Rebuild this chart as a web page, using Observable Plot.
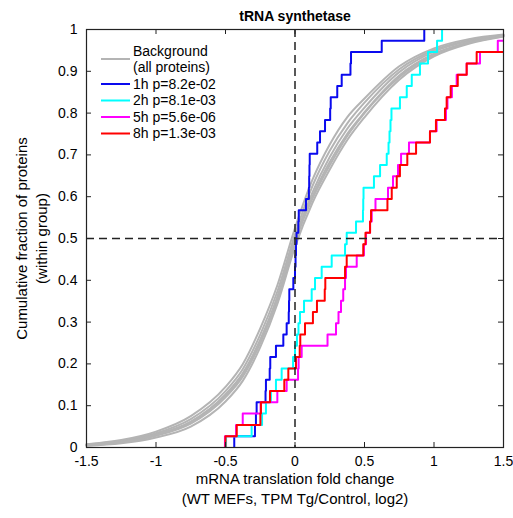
<!DOCTYPE html>
<html><head><meta charset="utf-8">
<script src="https://cdn.jsdelivr.net/npm/d3@7"></script>
<script src="https://cdn.jsdelivr.net/npm/@observablehq/plot@0.6"></script>
<style>body{margin:0;background:#fff}#chart{width:513px;height:518px}</style>
</head><body><div id="chart"></div>
<script>
// ---- data ----
const title = "tRNA synthetase";
const xTitle = ["mRNA translation fold change", "(WT MEFs, TPM Tg/Control, log2)"];
const yTitle = ["Cumulative fraction of proteins", "(within group)"];
const groupNames = ["1h p=8.2e-02", "2h p=8.1e-03", "5h p=5.6e-06", "8h p=1.3e-03"];
const groupColors = ["#0a0aee", "#00ffff", "#ff00ff", "#ff0000"];
const bgName = ["Background", "(all proteins)"];

// fold-change values per group (37 proteins each)
const h1 = [-0.437,-0.288,-0.281,-0.276,-0.212,-0.209,-0.182,-0.178,-0.137,-0.084,-0.060,-0.045,-0.043,-0.041,-0.012,0.000,0.004,0.007,0.011,0.024,0.027,0.079,0.100,0.102,0.104,0.106,0.160,0.180,0.216,0.253,0.257,0.304,0.336,0.399,0.403,0.624,0.930];
const h2 = [-0.496,-0.312,-0.237,-0.209,-0.173,-0.137,-0.096,-0.014,0.000,0.014,0.025,0.036,0.065,0.120,0.144,0.192,0.264,0.360,0.372,0.439,0.489,0.491,0.493,0.568,0.612,0.660,0.673,0.680,0.687,0.694,0.755,0.804,0.840,0.899,0.957,1.022,1.058];
const h5 = [-0.504,-0.424,-0.376,-0.247,-0.127,-0.060,0.022,0.026,0.048,0.234,0.295,0.313,0.331,0.347,0.360,0.367,0.444,0.496,0.511,0.540,0.552,0.579,0.669,0.705,0.741,0.763,0.820,0.971,1.019,1.086,1.097,1.129,1.163,1.235,1.331,1.459,1.700];
const h8 = [-0.500,-0.419,-0.249,-0.245,-0.180,-0.077,-0.048,0.007,0.034,0.038,0.072,0.129,0.158,0.214,0.218,0.360,0.372,0.491,0.507,0.540,0.547,0.665,0.696,0.732,0.755,0.808,0.871,0.971,1.014,1.079,1.091,1.120,1.171,1.235,1.307,1.700,1.900];

// background cumulative curves (read at these x positions)
const bgX = [-1.5,-1.25,-1,-0.75,-0.5,-0.375,-0.25,-0.125,0,0.125,0.25,0.375,0.5,0.75,1,1.25,1.5];
const bg1 = [0.008,0.018,0.038,0.075,0.145,0.200,0.285,0.390,0.525,0.640,0.725,0.790,0.835,0.912,0.955,0.977,0.988];
const bg2 = [0.007,0.016,0.034,0.068,0.135,0.188,0.270,0.375,0.510,0.625,0.710,0.775,0.825,0.905,0.951,0.974,0.987];
const bg3 = [0.006,0.014,0.031,0.062,0.127,0.178,0.258,0.362,0.500,0.610,0.695,0.762,0.813,0.898,0.947,0.972,0.986];
const bg4 = [0.005,0.012,0.028,0.057,0.120,0.170,0.250,0.355,0.490,0.600,0.683,0.750,0.802,0.890,0.942,0.969,0.985];
const bg5 = [0.004,0.010,0.024,0.050,0.110,0.160,0.240,0.345,0.480,0.585,0.665,0.735,0.790,0.880,0.936,0.966,0.983];
const bg6 = [0.006,0.013,0.030,0.060,0.125,0.175,0.255,0.360,0.497,0.595,0.675,0.745,0.800,0.886,0.940,0.968,0.984];

const xTicks = [-1.5,-1,-0.5,0,0.5,1,1.5];
const yTicks = [0,0.1,0.2,0.3,0.4,0.5,0.6,0.7,0.8,0.9,1];
const refX = [0];
const refY = [0.5];

// ---- derived tables ----
function ecdf(values, group) {
  const s = values.slice().sort((a, b) => a - b);
  const n = s.length;
  const pts = [{x: s[0], y: 0, group}];
  s.forEach((v, i) => pts.push({x: v, y: (i + 1) / n, group}));
  return pts;
}
const steps = [h1, h2, h5, h8].flatMap((v, i) => ecdf(v, groupNames[i]));
const bg = [bg1, bg2, bg3, bg4, bg5, bg6].flatMap((ys, j) => ys.map((y, i) => ({x: bgX[i], y, k: j})));

const W = 513, H = 518, mL = 86, mR = 10, mT = 29, mB = 71;
const innerH = H - mT - mB, innerW = W - mL - mR;
const font = "'Liberation Sans', Arial, Helvetica, sans-serif";

const chart = Plot.plot({
  width: W, height: H,
  marginLeft: mL, marginRight: mR, marginTop: mT, marginBottom: mB,
  style: {fontFamily: font, background: "#fff", color: "#000"},
  x: {domain: [-1.5, 1.5]},
  y: {domain: [0, 1]},
  color: {domain: groupNames, range: groupColors},
  marks: [
    Plot.line(bg, {x: "x", y: "y", z: "k", stroke: "#b4b4b4", strokeWidth: 2, curve: "monotone-x"}),
    Plot.line(steps, {x: "x", y: "y", z: "group", stroke: "group", strokeWidth: 2, curve: "step-after", clip: true}),
    Plot.ruleX(refX, {stroke: "#222", strokeWidth: 1.5, strokeDasharray: "8,5"}),
    Plot.ruleY(refY, {stroke: "#222", strokeWidth: 1.5, strokeDasharray: "8,5"}),
    Plot.frame({stroke: "#222", strokeWidth: 1.2}),
    Plot.tickX(xTicks, {x: d => d, stroke: "#222", insetTop: innerH - 5}),
    Plot.tickX(xTicks, {x: d => d, stroke: "#222", insetBottom: innerH - 5}),
    Plot.tickY(yTicks, {y: d => d, stroke: "#222", insetRight: innerW - 5}),
    Plot.tickY(yTicks, {y: d => d, stroke: "#222", insetLeft: innerW - 5}),
    Plot.axisX({ticks: xTicks, tickSize: 0, tickPadding: 9, tickFormat: d => String(d), fontSize: 14, label: null}),
    Plot.axisY({ticks: yTicks, tickSize: 0, tickPadding: 9, tickFormat: d => String(d), fontSize: 14, label: null}),
    Plot.text([title], {frameAnchor: "top", dy: -18, fontWeight: "bold", fontSize: 14, textAnchor: "middle", text: d => d}),
    Plot.text([xTitle[0]], {frameAnchor: "bottom", dy: 36, fontSize: 15, textAnchor: "middle", text: d => d}),
    Plot.text([xTitle[1]], {frameAnchor: "bottom", dy: 56, fontSize: 15, textAnchor: "middle", text: d => d}),
    Plot.text([yTitle[0]], {frameAnchor: "left", dx: -64, rotate: -90, fontSize: 15, textAnchor: "middle", text: d => d}),
    Plot.text([yTitle[1]], {frameAnchor: "left", dx: -44, rotate: -90, fontSize: 15, textAnchor: "middle", text: d => d})
  ]
});
document.getElementById("chart").appendChild(chart);

// legend inside the plot, top-left
const svg = d3.select(chart);
const lg = svg.append("g").attr("font-family", font).attr("font-size", 14).attr("text-anchor", "start");
const rows = [
  {color: "#b4b4b4", lineY: 59, texts: [[bgName[0], 51], [bgName[1], 67]]},
  ...groupNames.map((g, i) => ({color: groupColors[i], lineY: 84 + i * 16.5, texts: [[g, 84 + i * 16.5]]}))
];
rows.forEach(r => {
  lg.append("line").attr("x1", 101).attr("x2", 130).attr("y1", r.lineY).attr("y2", r.lineY)
    .attr("stroke", r.color).attr("stroke-width", 2);
  r.texts.forEach(([t, y]) => lg.append("text").attr("x", 133).attr("y", y).attr("dy", "0.35em").attr("fill", "#000").text(t));
});
</script></body></html>
